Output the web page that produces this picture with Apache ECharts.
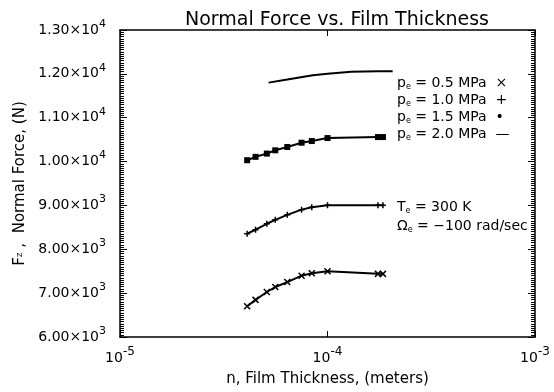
<!DOCTYPE html>
<html>
<head>
<meta charset="utf-8">
<script src="https://cdn.jsdelivr.net/npm/echarts@6/dist/echarts.min.js"></script>
<style>html,body{margin:0;padding:0;background:#fff;}#c{width:554px;height:392px;}</style>
</head>
<body>
<div id="c"></div>
<script>
// Film thickness (m) for the marked curves
const thickness = [4.1e-5, 4.5e-5, 5.1e-5, 5.6e-5, 6.4e-5, 7.5e-5, 8.4e-5, 1.0e-4, 1.75e-4, 1.85e-4];
// Normal force (N)
const force05 = [6700, 6846, 7026, 7139, 7252, 7398, 7454, 7500, 7440, 7440];
const force10 = [8356, 8446, 8582, 8672, 8785, 8904, 8958, 9003, 9003, 9003];
const force15 = [10031, 10108, 10182, 10257, 10333, 10430, 10468, 10536, 10559, 10559];
// 2.0 MPa curve (no markers)
const thickness20 = [5.2e-5, 6.4e-5, 8.5e-5, 1.0e-4, 1.3e-4, 1.75e-4, 2.06e-4];
const force20 = [11800, 11870, 11970, 12000, 12046, 12058, 12060];

const yMin = 6000, yMax = 13000, yStep = 1000;
const xMin = 1e-5, xMax = 1e-3;

const legendLines = ['0.5', '1.0', '1.5', '2.0'];
const legendSyms = ['×', '+', '•', '—'];

const FONT = 'DejaVu Sans';
const pairs = (xs, ys) => xs.map((x, i) => [x, ys[i]]);

function yFmt(v) {
  const e = Math.floor(Math.log10(v) + 1e-9);
  const m = (v / Math.pow(10, e)).toFixed(2);
  return m + '×10{sup|' + e + '}';
}
function xFmt(v) {
  const e = Math.round(Math.log10(v));
  return '10{sup|' + e + '}';
}

const chart = echarts.init(document.getElementById('c'), null, {renderer: 'canvas'});
const lineStyle = {color: '#000', width: 2};
const xSym = 'path://M0,0L10,10M10,0L0,10';
const pSym = 'path://M5,0L5,10M0,5L10,5';
const subRich = {sub: {fontSize: 8, verticalAlign: 'bottom', padding: [7, 0, 0, 0], fontFamily: FONT}};

const legendGraphics = legendLines.map((p, i) => ({
  type: 'text', left: 397, top: 76 + i * 17,
  style: {
    text: 'p{sub|e} = ' + p + ' MPa  ' + legendSyms[i],
    font: '14px "' + FONT + '"', fill: '#000', rich: subRich
  }
}));

chart.setOption({
  animation: false,
  backgroundColor: '#fff',
  title: {
    text: 'Normal Force vs. Film Thickness',
    left: 332, top: 6, textAlign: 'center',
    textStyle: {fontFamily: FONT, fontSize: 19, fontWeight: 'normal', color: '#000'}
  },
  grid: {left: 120, right: 19, top: 30, bottom: 51, containLabel: false},
  xAxis: [{
    type: 'log', logBase: 10, min: xMin, max: xMax, position: 'bottom',
    name: 'n, Film Thickness, (meters)', nameLocation: 'middle', nameGap: 35,
    nameTextStyle: {fontFamily: FONT, fontSize: 15, color: '#000'},
    axisLine: {lineStyle: {color: '#000', width: 1.5}},
    axisTick: {inside: true, length: 6, lineStyle: {color: '#000'}},
    splitLine: {show: false},
    axisLabel: {
      formatter: xFmt, color: '#000', fontFamily: FONT, fontSize: 14, margin: 9,
      rich: {sup: {fontSize: 12, verticalAlign: 'top', padding: [0, 0, 12, 0], fontFamily: FONT}}
    }
  }, {
    type: 'log', logBase: 10, min: xMin, max: xMax, position: 'top',
    axisLine: {lineStyle: {color: '#000', width: 1.5}},
    axisTick: {inside: true, length: 6, lineStyle: {color: '#000'}},
    axisLabel: {show: false}, splitLine: {show: false}
  }],
  yAxis: [{
    type: 'value', min: yMin, max: yMax, interval: yStep, position: 'left',
    name: 'F{sub|z} ,  Normal Force, (N)', nameLocation: 'middle', nameGap: 92, nameRotate: 90,
    nameTextStyle: {fontFamily: FONT, fontSize: 15, color: '#000',
      rich: {sub: {fontSize: 9, fontFamily: FONT}}},
    axisLine: {show: true, lineStyle: {color: '#000', width: 1.5}},
    axisTick: {show: true, inside: true, length: 7, lineStyle: {color: '#000'}},
    minorTick: {show: true, splitNumber: 20, length: 4, lineStyle: {color: '#000'}},
    splitLine: {show: false},
    axisLabel: {
      formatter: yFmt, color: '#000', fontFamily: FONT, fontSize: 14, margin: 14,
      rich: {sup: {fontSize: 11, verticalAlign: 'top', padding: [0, 0, 12, 0], fontFamily: FONT}}
    }
  }, {
    type: 'value', min: yMin, max: yMax, interval: yStep, position: 'right',
    axisLine: {show: true, lineStyle: {color: '#000', width: 1.5}},
    axisTick: {show: true, inside: true, length: 7, lineStyle: {color: '#000'}},
    minorTick: {show: true, splitNumber: 20, length: 4, lineStyle: {color: '#000'}},
    splitLine: {show: false}, axisLabel: {show: false}
  }],
  series: [
    {name: 'p = 0.5 MPa', type: 'line', data: pairs(thickness, force05), lineStyle,
      symbol: xSym, symbolSize: 6, itemStyle: {color: '#000', borderColor: '#000', borderWidth: 1.5}},
    {name: 'p = 1.0 MPa', type: 'line', data: pairs(thickness, force10), lineStyle,
      symbol: pSym, symbolSize: 6, itemStyle: {color: '#000', borderColor: '#000', borderWidth: 1.5}},
    {name: 'p = 1.5 MPa', type: 'line', data: pairs(thickness, force15), lineStyle,
      symbol: 'rect', symbolSize: 6, itemStyle: {color: '#000'}},
    {name: 'p = 2.0 MPa', type: 'line', data: pairs(thickness20, force20), lineStyle,
      symbol: 'none', showSymbol: false}
  ],
  graphic: legendGraphics.concat([
    {type: 'text', left: 397, top: 200,
      style: {text: 'T{sub|e} = 300 K', font: '14px "' + FONT + '"', fill: '#000', rich: subRich}},
    {type: 'text', left: 397, top: 219,
      style: {text: 'Ω{sub|e} = −100 rad/sec', font: '14px "' + FONT + '"', fill: '#000', rich: subRich}}
  ])
});
</script>
</body>
</html>
